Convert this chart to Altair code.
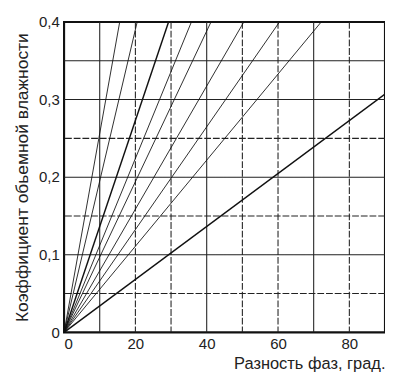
import altair as alt
import pandas as pd

# Data
line_x_end = [15.6, 20.5, 29.3, 35.7, 41.2, 50.4, 60.4, 72.1, 90.0]
line_y_end = [0.4, 0.4, 0.4, 0.4, 0.4, 0.4, 0.4, 0.4, 0.307]
line_width = [0.9, 0.9, 1.5, 0.9, 0.9, 0.9, 0.9, 0.9, 1.5]

vgrid_x = [10, 20, 30, 40, 50, 60, 70, 80]
vgrid_style = ["solid", "dashed", "dashed", "solid", "dashed", "dashed", "solid", "dashed"]
hgrid_y = [0.05, 0.1, 0.15, 0.2, 0.25, 0.3, 0.35]
hgrid_style = ["dashed", "solid", "dashed", "solid", "dashed", "solid", "solid"]

x_ticks = [0, 20, 40, 60, 80]
y_ticks = [0, 0.1, 0.2, 0.3, 0.4]

rows = []
for i, (xe, ye, w) in enumerate(zip(line_x_end, line_y_end, line_width)):
    rows.append({"id": i, "x": 0.0, "y": 0.0, "w": w, "o": 0})
    rows.append({"id": i, "x": xe, "y": ye, "w": w, "o": 1})
lines_df = pd.DataFrame(rows)
vg_df = pd.DataFrame({"x": vgrid_x, "style": vgrid_style})
hg_df = pd.DataFrame({"y": hgrid_y, "style": hgrid_style})

FONT = "Liberation Sans"
xscale = alt.Scale(domain=[0, 90], nice=False, zero=True)
yscale = alt.Scale(domain=[0, 0.4], nice=False, zero=True)
dash = alt.StrokeDash("style:N", scale=alt.Scale(domain=["solid", "dashed"], range=[[1, 0], [7, 2]]), legend=None)

xaxis = alt.Axis(values=x_ticks, title="Разность фаз, град.", grid=False, ticks=False,
                 titleAnchor="end", titlePadding=4, labelPadding=5, domain=False,
                 titleFontSize=17)
yaxis = alt.Axis(values=y_ticks, title="Коэффициент обьемной влажности", grid=False, ticks=False,
                 labelExpr="datum.value == 0 ? '0' : replace(format(datum.value, '.1f'), '.', ',')",
                 titlePadding=7, labelPadding=5, domain=False, titleFontSize=18)

vgrid = alt.Chart(vg_df).mark_rule(color="#222", strokeWidth=1.1).encode(
    x=alt.X("x:Q", scale=xscale, axis=xaxis), strokeDash=dash)
hgrid = alt.Chart(hg_df).mark_rule(color="#222", strokeWidth=1.1).encode(
    y=alt.Y("y:Q", scale=yscale, axis=yaxis), strokeDash=dash)
lines = alt.Chart(lines_df).mark_line(color="#111", clip=True).encode(
    x=alt.X("x:Q", scale=xscale, axis=xaxis),
    y=alt.Y("y:Q", scale=yscale, axis=yaxis),
    detail="id:N",
    order="o:Q",
    strokeWidth=alt.StrokeWidth("w:Q", scale=None),
)

chart = alt.layer(vgrid, hgrid, lines).properties(
    width=332, height=321,
    autosize=alt.AutoSizeParams(type="none"),
    padding={"left": 58, "top": 8, "right": 0, "bottom": 48},
    background="white",
).configure_view(stroke="#111", strokeWidth=2.2).configure_axis(
    labelFont=FONT, labelFontSize=15.5, labelColor="#222",
    titleFont=FONT, titleFontWeight="normal", titleColor="#222",
)

chart.save("out.html", embed_options={"renderer": "svg", "actions": False})
